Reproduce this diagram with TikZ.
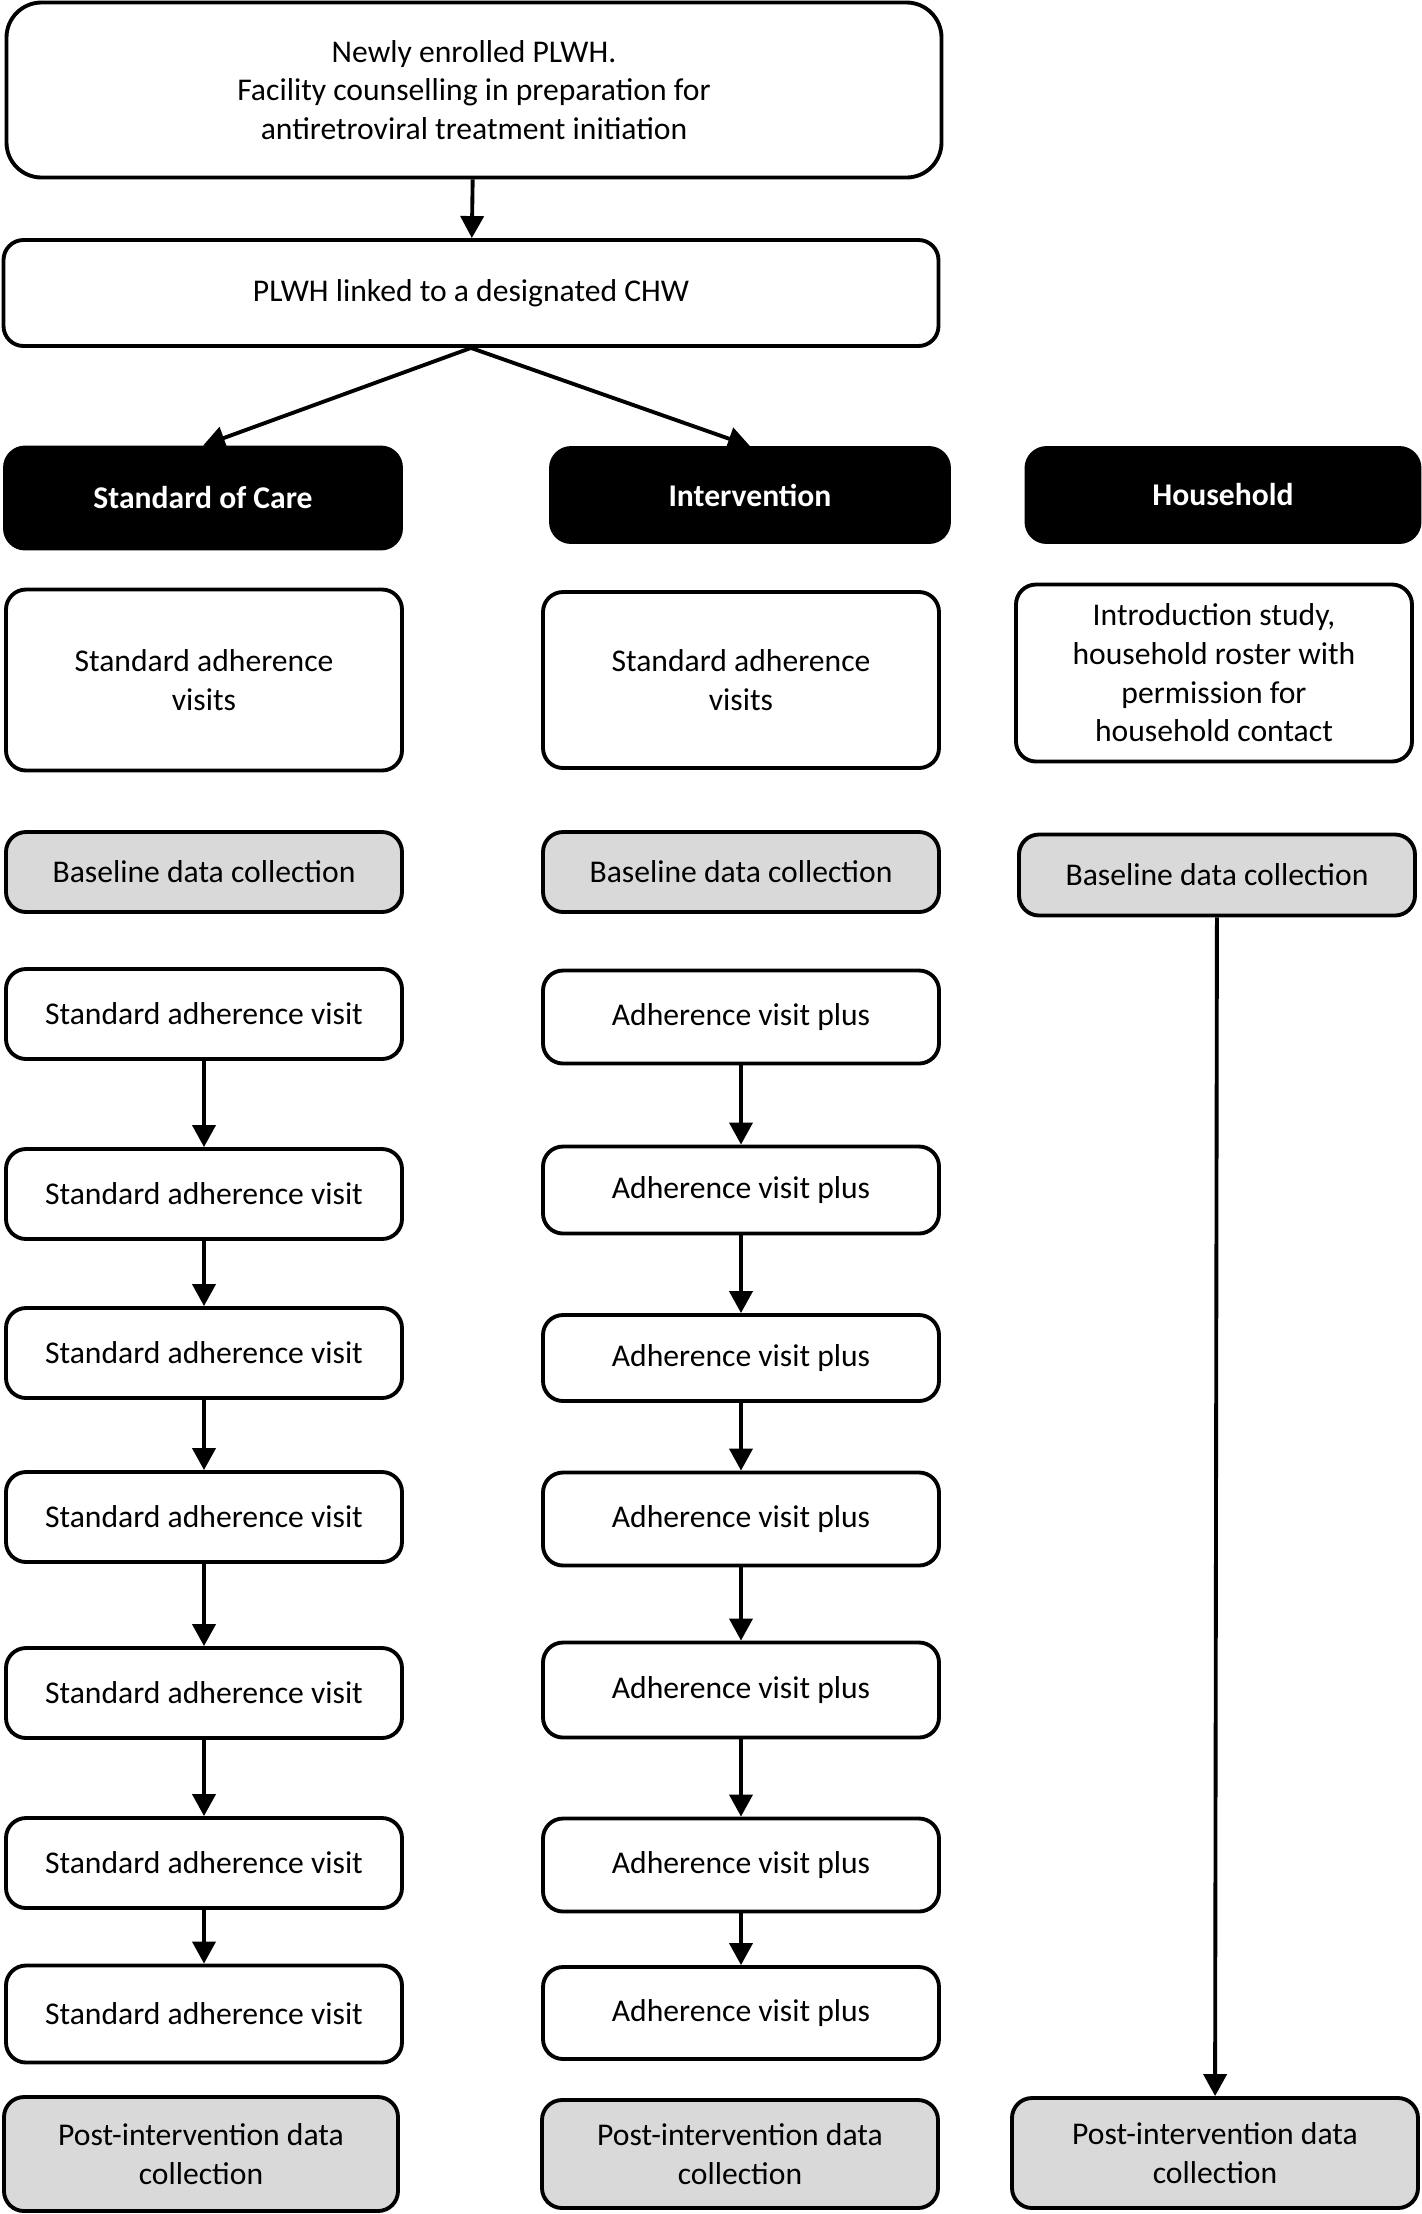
\documentclass[tikz,border=0pt]{standalone}
\usepackage{fontspec}
\setmainfont{Carlito}
\usetikzlibrary{arrows.meta,positioning}

\begin{document}
\begin{tikzpicture}[
  x=0.1mm, y=-0.1mm,
  box/.style = {draw, line width=1.1pt, rounded corners=2mm, align=center,
    font=\fontsize{9}{11}\selectfont, minimum width=39.6mm, inner sep=1mm},
  head/.style = {box, fill=black, text=white,
    font=\fontsize{9}{11}\selectfont\bfseries, minimum height=9.4mm},
  data/.style = {box, fill=black!15},
  visit/.style = {box, minimum height=9mm},
  arr/.style = {-{Triangle[length=2.2mm, width=2.3mm]}, line width=1.1pt},
]
\useasboundingbox (0,0) rectangle (1422,2214);
\node[box, rounded corners=3.5mm, minimum width=93.5mm, minimum height=17.5mm] (enrol) at (474,90)
  {Newly enrolled PLWH.\\ Facility counselling in preparation for\\ antiretroviral treatment initiation};
\node[box, minimum width=93.5mm, minimum height=10.6mm] (link) at (471,293) {PLWH linked to a designated CHW};
\node[head, minimum height=10.1mm] (soc) at (203,498) {Standard of Care};
\node[head, minimum width=39.8mm] (inter) at (750,495) {Intervention};
\node[head, minimum width=39.3mm] (house) at (1223,495) {Household};
\node[box, minimum height=18.1mm] (socvisits) at (204,680) {Standard adherence\\ visits};
\node[box, minimum height=17.6mm] (intvisits) at (741,680) {Standard adherence\\ visits};
\node[box, minimum height=17.7mm] (hintro) at (1214,673)
  {Introduction study,\\ household roster with\\ permission for\\ household contact};
\node[data, minimum height=8mm] (socbase) at (204,872) {Baseline data collection};
\node[data, minimum height=8mm] (intbase) at (741,872) {Baseline data collection};
\node[data, minimum height=8.1mm] (hbase) at (1217,875) {Baseline data collection};
% standard of care visits
\node[visit] (sv1) at (204,1014) {Standard adherence visit};
\node[visit] (sv2) at (204,1194) {Standard adherence visit};
\node[visit] (sv3) at (204,1353) {Standard adherence visit};
\node[visit] (sv4) at (204,1517) {Standard adherence visit};
\node[visit] (sv5) at (204,1693) {Standard adherence visit};
\node[visit] (sv6) at (204,1863) {Standard adherence visit};
\node[visit, minimum height=9.7mm] (sv7) at (204,2014) {Standard adherence visit};
% intervention visits
\node[visit, minimum height=9.3mm] (iv1) at (741,1017) {Adherence visit plus};
\node[visit, minimum height=8.7mm] (iv2) at (741,1190) {Adherence visit plus};
\node[visit, minimum height=8.6mm] (iv3) at (741,1358) {Adherence visit plus};
\node[visit, minimum height=9.3mm] (iv4) at (741,1519) {Adherence visit plus};
\node[visit, minimum height=9.5mm] (iv5) at (741,1690) {Adherence visit plus};
\node[visit, minimum height=9.3mm] (iv6) at (741,1865) {Adherence visit plus};
\node[visit, minimum height=9.2mm] (iv7) at (741,2013) {Adherence visit plus};
\node[data, minimum width=39.4mm, minimum height=11.4mm] (socpost) at (201,2154) {Post-intervention data\\ collection};
\node[data, minimum height=10.8mm] (intpost) at (740,2154) {Post-intervention data\\ collection};
\node[data, minimum width=40.6mm, minimum height=11mm] (hpost) at (1215,2153) {Post-intervention data\\ collection};
\draw[arr] (enrol) -- (link);
\draw[arr] (link.south) -- (soc.north);
\draw[arr] (link.south) -- (inter.north);
\draw[arr] (sv1) -- (sv2);
\draw[arr] (sv2) -- (sv3);
\draw[arr] (sv3) -- (sv4);
\draw[arr] (sv4) -- (sv5);
\draw[arr] (sv5) -- (sv6);
\draw[arr] (sv6) -- (sv7);
\draw[arr] (iv1) -- (iv2);
\draw[arr] (iv2) -- (iv3);
\draw[arr] (iv3) -- (iv4);
\draw[arr] (iv4) -- (iv5);
\draw[arr] (iv5) -- (iv6);
\draw[arr] (iv6) -- (iv7);
\draw[arr] (hbase) -- (hpost);
\end{tikzpicture}
\end{document}
